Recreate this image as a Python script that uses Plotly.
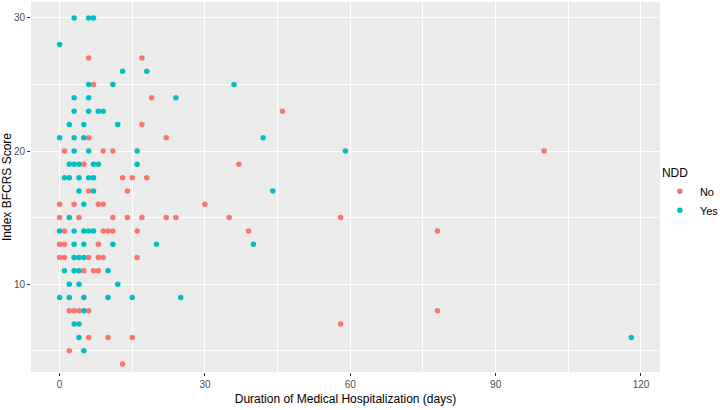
import plotly.graph_objects as go

# NDD = No
no_days = [6, 17, 7, 19, 17, 6, 22, 1, 9, 11, 5, 37, 13, 15, 18, 6, 14, 0, 3, 8, 9, 30,
           0, 4, 11, 14, 17, 22, 24, 35, 58, 1, 9, 10, 11, 16, 39, 78, 0, 1, 8, 0, 1, 6,
           8, 9, 16, 5, 7, 8, 2, 3, 4, 6, 78, 58, 6, 10, 15, 2, 13, 46, 100]
no_score = [27, 27, 25, 24, 22, 21, 21, 20, 20, 20, 19, 19, 18, 18, 18, 17, 17, 16, 16, 16, 16, 16,
            15, 15, 15, 15, 15, 15, 15, 15, 15, 14, 14, 14, 14, 14, 14, 14, 13, 13, 13, 12, 12, 12,
            12, 12, 12, 11, 11, 11, 8, 8, 8, 8, 8, 7, 6, 6, 6, 5, 4, 23, 20]

# NDD = Yes
yes_days = [3, 6, 7, 0, 13, 18, 6, 11, 36, 3, 6, 24, 3, 6, 8, 9, 2, 5, 12, 0, 3, 5, 42,
            3, 6, 16, 59, 2, 3, 4, 7, 8, 16, 1, 2, 4, 6, 7, 4, 7, 44, 5, 2, 0, 3, 5, 6, 7,
            3, 5, 11, 20, 40, 3, 4, 5, 1, 3, 4, 10, 2, 4, 12, 0, 2, 5, 10, 15, 25, 5, 3, 4,
            4, 5, 118]
yes_score = [30, 30, 30, 28, 26, 26, 25, 25, 25, 24, 24, 24, 23, 23, 23, 23, 22, 22, 22, 21, 21, 21, 21,
             20, 20, 20, 20, 19, 19, 19, 19, 19, 19, 18, 18, 18, 18, 18, 17, 17, 17, 16, 15, 14, 14, 14, 14, 14,
             13, 13, 13, 13, 13, 12, 12, 12, 11, 11, 11, 11, 10, 10, 10, 9, 9, 9, 9, 9, 9, 8, 7, 7,
             6, 5, 6]

x_ticks = [0, 30, 60, 90, 120]
y_ticks = [10, 20, 30]

FONT = "Liberation Sans, Arial, sans-serif"

fig = go.Figure()
fig.add_trace(go.Scatter(x=no_days, y=no_score, mode="markers", name="No",
                         marker=dict(color="#F8766D", size=5.5, line=dict(width=0))))
fig.add_trace(go.Scatter(x=yes_days, y=yes_score, mode="markers", name="Yes",
                         marker=dict(color="#00BFC4", size=5.5, line=dict(width=0))))

axis_common = dict(
    showgrid=True, gridcolor="white", gridwidth=1.1,
    zeroline=False, showline=False, automargin=False,
    ticks="outside", ticklen=3, tickwidth=1, tickcolor="#333333",
    tickfont=dict(family=FONT, size=10, color="#4D4D4D"),
)

fig.update_xaxes(
    range=[-5.9, 123.9], tickvals=x_ticks, ticktext=[str(v) for v in x_ticks],
    minor=dict(dtick=15, tick0=0, showgrid=True, gridcolor="white", gridwidth=0.5, ticks=""),
    title=dict(text="Duration of Medical Hospitalization (days)",
               font=dict(family=FONT, size=12, color="black"), standoff=5),
    **axis_common,
)
fig.update_yaxes(
    range=[3.4, 31.2], tickvals=y_ticks, ticktext=[str(v) for v in y_ticks],
    minor=dict(dtick=5, tick0=0, showgrid=True, gridcolor="white", gridwidth=0.5, ticks=""),
    title=dict(text="Index BFCRS Score",
               font=dict(family=FONT, size=12, color="black"), standoff=2),
    **axis_common,
)

fig.update_layout(
    width=720, height=410,
    margin=dict(l=31, r=60, t=2, b=38),
    paper_bgcolor="white", plot_bgcolor="#EBEBEB",
    showlegend=True,
    legend=dict(
        title=dict(text="NDD", font=dict(family=FONT, size=12, color="black")),
        font=dict(family=FONT, size=11, color="black"),
        xref="container", yref="container",
        x=0.9165, xanchor="left", y=0.607, yanchor="top",
        bgcolor="rgba(0,0,0,0)", itemsizing="trace", itemwidth=30,
        tracegroupgap=0,
    ),
)

fig.write_html("out.html",
               config={"displayModeBar": False},
               post_script="document.body.style.margin='0px';document.body.style.overflow='hidden';")
